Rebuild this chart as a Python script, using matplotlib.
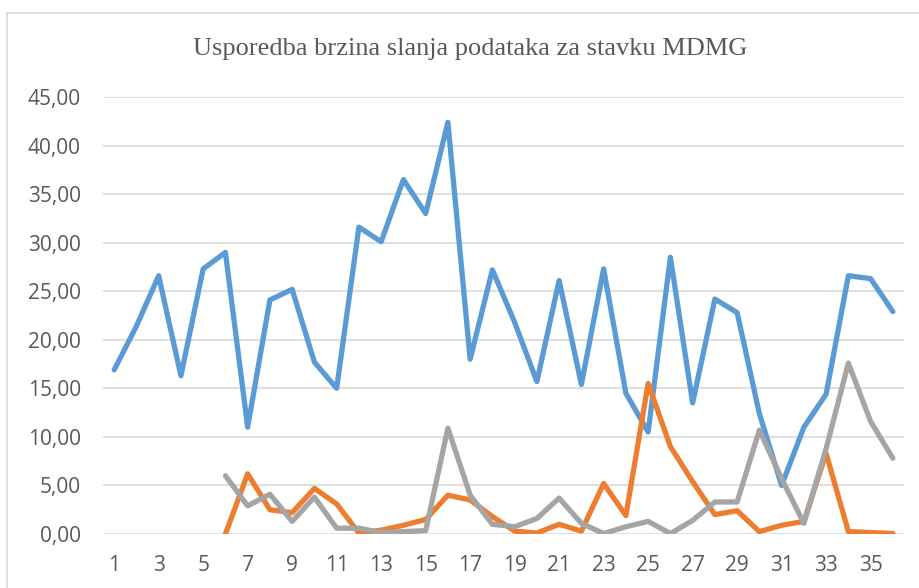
import matplotlib.pyplot as plt
from matplotlib.patches import Rectangle

# Data
days = list(range(1, 37))
series_a = [16.9, 21.4, 26.6, 16.3, 27.3, 29.0, 11.0, 24.1, 25.2, 17.7,
            15.0, 31.6, 30.1, 36.5, 33.0, 42.4, 18.0, 27.2, 21.8, 15.7,
            26.1, 15.4, 27.3, 14.5, 10.5, 28.5, 13.5, 24.2, 22.8, 12.4,
            5.0, 11.0, 14.4, 26.6, 26.3, 22.9]
series_b = [None] * 5 + [0.0, 6.2, 2.5, 2.2, 4.7, 3.1, 0.1, 0.4, 0.9, 1.5,
                         4.0, 3.5, 1.8, 0.3, 0.1, 1.0, 0.3, 5.2, 1.9, 15.5,
                         9.0, 5.4, 2.0, 2.4, 0.25, 0.9, 1.3, 8.3, 0.25, 0.15,
                         0.05]
series_c = [None] * 5 + [6.0, 2.9, 4.1, 1.3, 3.8, 0.6, 0.6, 0.15, 0.25, 0.35,
                         10.9, 4.0, 1.0, 0.75, 1.6, 3.7, 1.1, 0.05, 0.75, 1.3,
                         0.05, 1.4, 3.3, 3.3, 10.7, 5.7, 1.1, 8.8, 17.6, 11.6,
                         7.8]

colors = ["#5B9BD5", "#ED7D31", "#A5A5A5"]

fig = plt.figure(figsize=(9.2, 5.88), dpi=100)
ax = fig.add_axes([0.112, 0.0918, 0.8706, 0.7432])

# chart frame
fig.patches.append(Rectangle((7 / 920, -0.1), 1.0, 1 - 13 / 588 + 0.1,
                             transform=fig.transFigure, fill=False,
                             edgecolor="#d9d9d9", linewidth=1.2))

for ys, c in zip([series_a, series_b, series_c], colors):
    xs = [d for d, v in zip(days, ys) if v is not None]
    vs = [v for v in ys if v is not None]
    ax.plot(xs, vs, color=c, linewidth=3.8, solid_joinstyle="round",
            solid_capstyle="round")

ax.set_xlim(0.5, 36.5)
ax.set_ylim(0, 45)
ax.set_yticks(range(0, 46, 5))
ax.set_yticklabels([f"{v},00" for v in range(0, 46, 5)])
ax.set_xticks(days[::2])
ax.set_xticklabels([str(d) for d in days[::2]])

ax.grid(axis="y", color="#d9d9d9", linewidth=1.2)
ax.set_axisbelow(True)
for s in ax.spines.values():
    s.set_visible(False)
ax.tick_params(length=0, colors="#595959", labelsize=15)
ax.tick_params(axis="y", pad=16)
ax.tick_params(axis="x", pad=15)
for lbl in ax.get_xticklabels() + ax.get_yticklabels():
    lbl.set_family("Open Sans")

fig.text(0.511, 0.917, "Usporedba brzina slanja podataka za stavku MDMG",
         ha="center", va="center", fontsize=19, color="#595959",
         family="Liberation Serif")

fig.savefig("out.png", dpi=100)
